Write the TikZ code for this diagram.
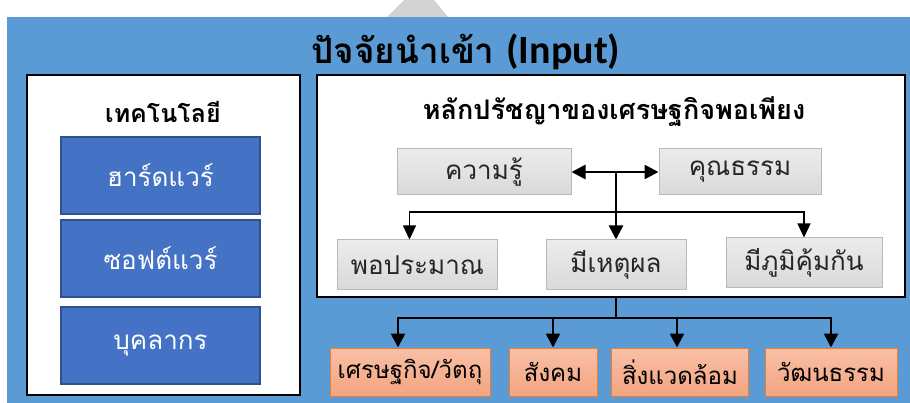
\documentclass[tikz,border=0pt]{standalone}
\usepackage{fontspec}
\setmainfont[Script=Thai]{Loma}
\newfontfamily\latinfont{Carlito}
\usetikzlibrary{arrows.meta}

\definecolor{bgblue}{HTML}{5B9BD5}
\definecolor{techfill}{HTML}{4472C4}
\definecolor{techline}{HTML}{2F528F}
\definecolor{outline}{HTML}{ED7D31}
\definecolor{outtop}{HTML}{F8C0A6}
\definecolor{outbot}{HTML}{F4A47F}

\tikzset{
  panel/.style={draw=black, fill=white, line width=2pt},
  techbox/.style={draw=techline, fill=techfill, line width=1.5pt, text=white,
    minimum width=199pt, minimum height=77pt, font=\fontsize{26}{28}\selectfont},
  ideabox/.style={draw=gray!55, top color=gray!15, bottom color=gray!30, line width=1pt,
    text=black!85, minimum height=46pt, font=\fontsize{26}{28}\selectfont},
  outbox/.style={draw=outline, top color=outtop, bottom color=outbot, line width=1pt,
    minimum height=48pt, inner sep=1pt, font=\fontsize{24}{26}\selectfont},
  bigarrow/.style={line width=2.6pt, -{Triangle[width=14pt,length=14pt]}},
  thinarrow/.style={line width=1.1pt, -{Triangle[width=13pt,length=14pt]}},
}

\begin{document}
\begin{tikzpicture}[x=1pt,y=-1pt]
\useasboundingbox (0,0) rectangle (910,403);

% background
\fill[gray!35] (387,17) -- (404,0) -- (434,0) -- (448,17) -- cycle;
\fill[bgblue] (7,17) rectangle (910,403);

\node[font=\bfseries] (title) at (466,52) {\fontsize{35}{37}\selectfont ปัจจัยนำเข้า
  {\latinfont\fontsize{40}{42}\selectfont (Input)}};

% technology
\node[panel, minimum width=273pt, minimum height=320pt] (techpanel) at (163.5,235) {};
\node[font=\bfseries\fontsize{25}{27}\selectfont] (techtitle) at (163,112) {เทคโนโลยี};
\node[techbox] (hard) at (160.5,175.5) {ฮาร์ดแวร์};
\node[techbox] (soft) at (160.5,258.5) {ซอฟต์แวร์};
\node[techbox] (people) at (160.5,345.5) {บุคลากร};

% philosophy
\node[panel, minimum width=588pt, minimum height=222pt] (philo) at (611,186) {};
\node[font=\bfseries\fontsize{27}{29}\selectfont] (philotitle) at (614,112) {หลักปรัชญาของเศรษฐกิจพอเพียง};

\node[ideabox, minimum width=174pt] (know) at (484,172) {ความรู้};
\node[ideabox, minimum width=162pt] (moral) at (740,172) {คุณธรรม};
\node[ideabox, minimum width=160pt, minimum height=50pt] (modest) at (417.5,265) {พอประมาณ};
\node[ideabox, minimum width=140pt, minimum height=50pt] (reason) at (616,265) {มีเหตุผล};
\node[ideabox, minimum width=156pt, minimum height=50pt] (immune) at (804,263) {มีภูมิคุ้มกัน};

\coordinate (hub) at (616,172);
\coordinate (split) at (616,212);
\coordinate (fork) at (616,318);

\draw[line width=2.6pt, {Triangle[width=14pt,length=14pt]}-{Triangle[width=14pt,length=14pt]}] (know) -- (moral);
\draw[bigarrow] (hub) -- (reason);
\draw[thinarrow] (split) -| ([xshift=-8pt]modest.north);
\draw[thinarrow] (split) -| (immune);

% outputs
\node[outbox, minimum width=160pt] (econ) at (410,372) {เศรษฐกิจ/วัตถุ};
\node[outbox, minimum width=88pt] (social) at (553,372) {สังคม};
\node[outbox, minimum width=137pt] (env) at (680,372) {สิ่งแวดล้อม};
\node[outbox, minimum width=132pt] (culture) at (831,372) {วัฒนธรรม};

\draw[line width=2.6pt] (philo.south -| hub) -- (fork);
\draw[bigarrow] (fork) -| ([xshift=-12pt]econ.north);
\draw[bigarrow] (fork) -| (social);
\draw[bigarrow] (fork) -| ([xshift=-3pt]env.north);
\draw[bigarrow] (fork) -| (culture);
\end{tikzpicture}
\end{document}
